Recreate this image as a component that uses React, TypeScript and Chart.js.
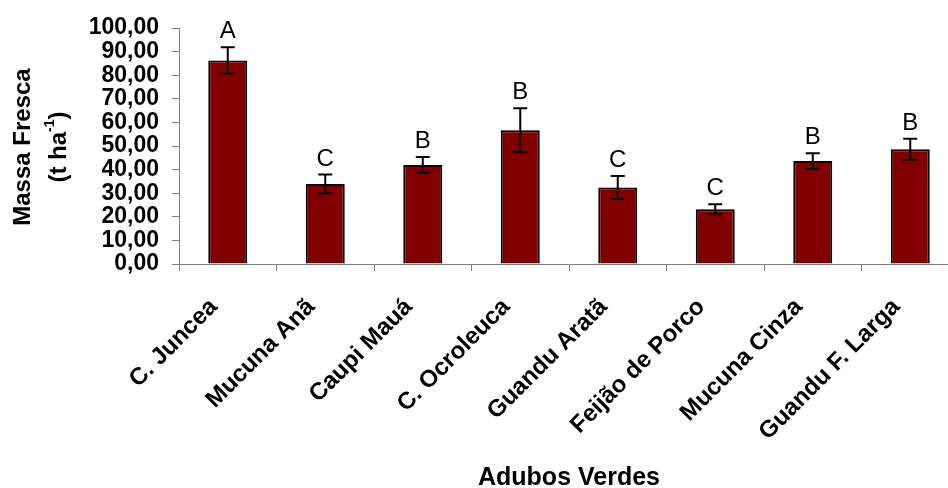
import React, { useEffect, useRef } from "react";
import { Chart, registerables } from "chart.js";

Chart.register(...registerables);

const categories = [
  "C. Juncea",
  "Mucuna Anã",
  "Caupi Mauá",
  "C. Ocroleuca",
  "Guandu Aratã",
  "Feijão de Porco",
  "Mucuna Cinza",
  "Guandu F. Larga",
];
const values = [86.2, 33.9, 42.0, 56.7, 32.4, 23.2, 43.6, 48.6];
const errors = [5.6, 4.0, 3.3, 9.3, 4.9, 2.1, 3.3, 4.5];
const letters = ["A", "C", "B", "B", "C", "C", "B", "B"];
const yTitleMain = "Massa Fresca";
const yTitleUnit = ["(t ha", "-1", ")"];
const xTitle = "Adubos Verdes";

const FONT = "'Liberation Sans', Arial, sans-serif";

const errorPlugin = {
  id: "errorLetters",
  afterDatasetsDraw(chart: any) {
    const ctx = chart.ctx;
    const xs = chart.scales.x;
    const ys = chart.scales.y;
    ctx.save();
    ctx.strokeStyle = "#000";
    ctx.lineWidth = 2;
    values.forEach((v, i) => {
      const x = xs.getPixelForValue(i);
      const yt = ys.getPixelForValue(v + errors[i]);
      const yb = ys.getPixelForValue(v - errors[i]);
      ctx.beginPath();
      ctx.moveTo(x, yt);
      ctx.lineTo(x, yb);
      ctx.moveTo(x - 7, yt);
      ctx.lineTo(x + 7, yt);
      ctx.moveTo(x - 7, yb);
      ctx.lineTo(x + 7, yb);
      ctx.stroke();
      ctx.fillStyle = "#000";
      ctx.font = `24px ${FONT}`;
      ctx.textAlign = "center";
      ctx.textBaseline = "alphabetic";
      ctx.fillText(letters[i], x, yt - 9);
    });
    ctx.restore();
  },
  afterDraw(chart: any) {
    const ctx = chart.ctx;
    const cy = (chart.chartArea.top + chart.chartArea.bottom) / 2 + 1;
    ctx.save();
    ctx.fillStyle = "#000";
    ctx.textBaseline = "middle";
    ctx.save();
    ctx.translate(23, cy);
    ctx.rotate(-Math.PI / 2);
    ctx.font = `bold 24px ${FONT}`;
    ctx.textAlign = "center";
    ctx.fillText(yTitleMain, 0, 0);
    ctx.restore();
    ctx.save();
    ctx.translate(59, cy);
    ctx.rotate(-Math.PI / 2);
    const big = `bold 24px ${FONT}`;
    const small = `bold 14px ${FONT}`;
    ctx.font = big;
    const w1 = ctx.measureText(yTitleUnit[0]).width;
    const w3 = ctx.measureText(yTitleUnit[2]).width;
    ctx.font = small;
    const w2 = ctx.measureText(yTitleUnit[1]).width;
    const total = w1 + w2 + w3;
    let x0 = -total / 2;
    ctx.textAlign = "left";
    ctx.font = big;
    ctx.fillText(yTitleUnit[0], x0, 0);
    x0 += w1;
    ctx.font = small;
    ctx.fillText(yTitleUnit[1], x0, -9);
    x0 += w2;
    ctx.font = big;
    ctx.fillText(yTitleUnit[2], x0, 0);
    ctx.restore();
    ctx.restore();
  },
};

export default function App() {
  const ref = useRef<HTMLCanvasElement | null>(null);
  useEffect(() => {
    if (!ref.current) return;
    const chart = new Chart(ref.current, {
      type: "bar",
      data: {
        labels: categories,
        datasets: [
          {
            data: values,
            backgroundColor: "#800000",
            borderColor: "#000000",
            borderWidth: 2,
            categoryPercentage: 1,
            barPercentage: 0.4,
          },
        ],
      },
      options: {
        animation: false,
        responsive: false,
        devicePixelRatio: 1,
        layout: { padding: { top: 28, right: 1, bottom: 0, left: 0 } },
        plugins: {
          legend: { display: false },
          tooltip: { enabled: false },
        },
        scales: {
          x: {
            grid: {
              display: true,
              drawOnChartArea: false,
              drawTicks: true,
              tickLength: 7,
              color: "#808080",
              offset: true,
            },
            border: { display: true, color: "#808080", width: 1 },
            ticks: {
              color: "#000",
              font: { family: FONT, size: 24, weight: "bold" },
              minRotation: 45,
              maxRotation: 45,
              autoSkip: false,
              padding: 22,
              labelOffset: -14,
            },
            title: {
              display: true,
              text: xTitle,
              color: "#000",
              font: { family: FONT, size: 25, weight: "bold", lineHeight: 0.8 },
              padding: { top: 0, bottom: 0 },
            },
            afterFit(scale: any) {
              scale.height = 224;
            },
          },
          y: {
            min: 0,
            max: 100,
            grid: {
              display: true,
              drawOnChartArea: false,
              drawTicks: true,
              tickLength: 7,
              color: "#808080",
            },
            border: { display: true, color: "#808080", width: 1 },
            ticks: {
              stepSize: 10,
              autoSkip: false,
              color: "#000",
              padding: 13,
              font: { family: FONT, size: 23, weight: "bold" },
              callback: (v: any) => Number(v).toFixed(2).replace(".", ","),
            },
            afterFit(scale: any) {
              scale.width = 179;
            },
          },
        },
      },
      plugins: [errorPlugin],
    });
    return () => chart.destroy();
  }, []);
  return (
    <div
      style={{
        position: "fixed",
        left: 0,
        top: 0,
        width: 948,
        height: 488,
        overflow: "hidden",
        background: "#fff",
      }}
    >
      <canvas ref={ref} width={960} height={488} style={{ display: "block" }} />
    </div>
  );
}
